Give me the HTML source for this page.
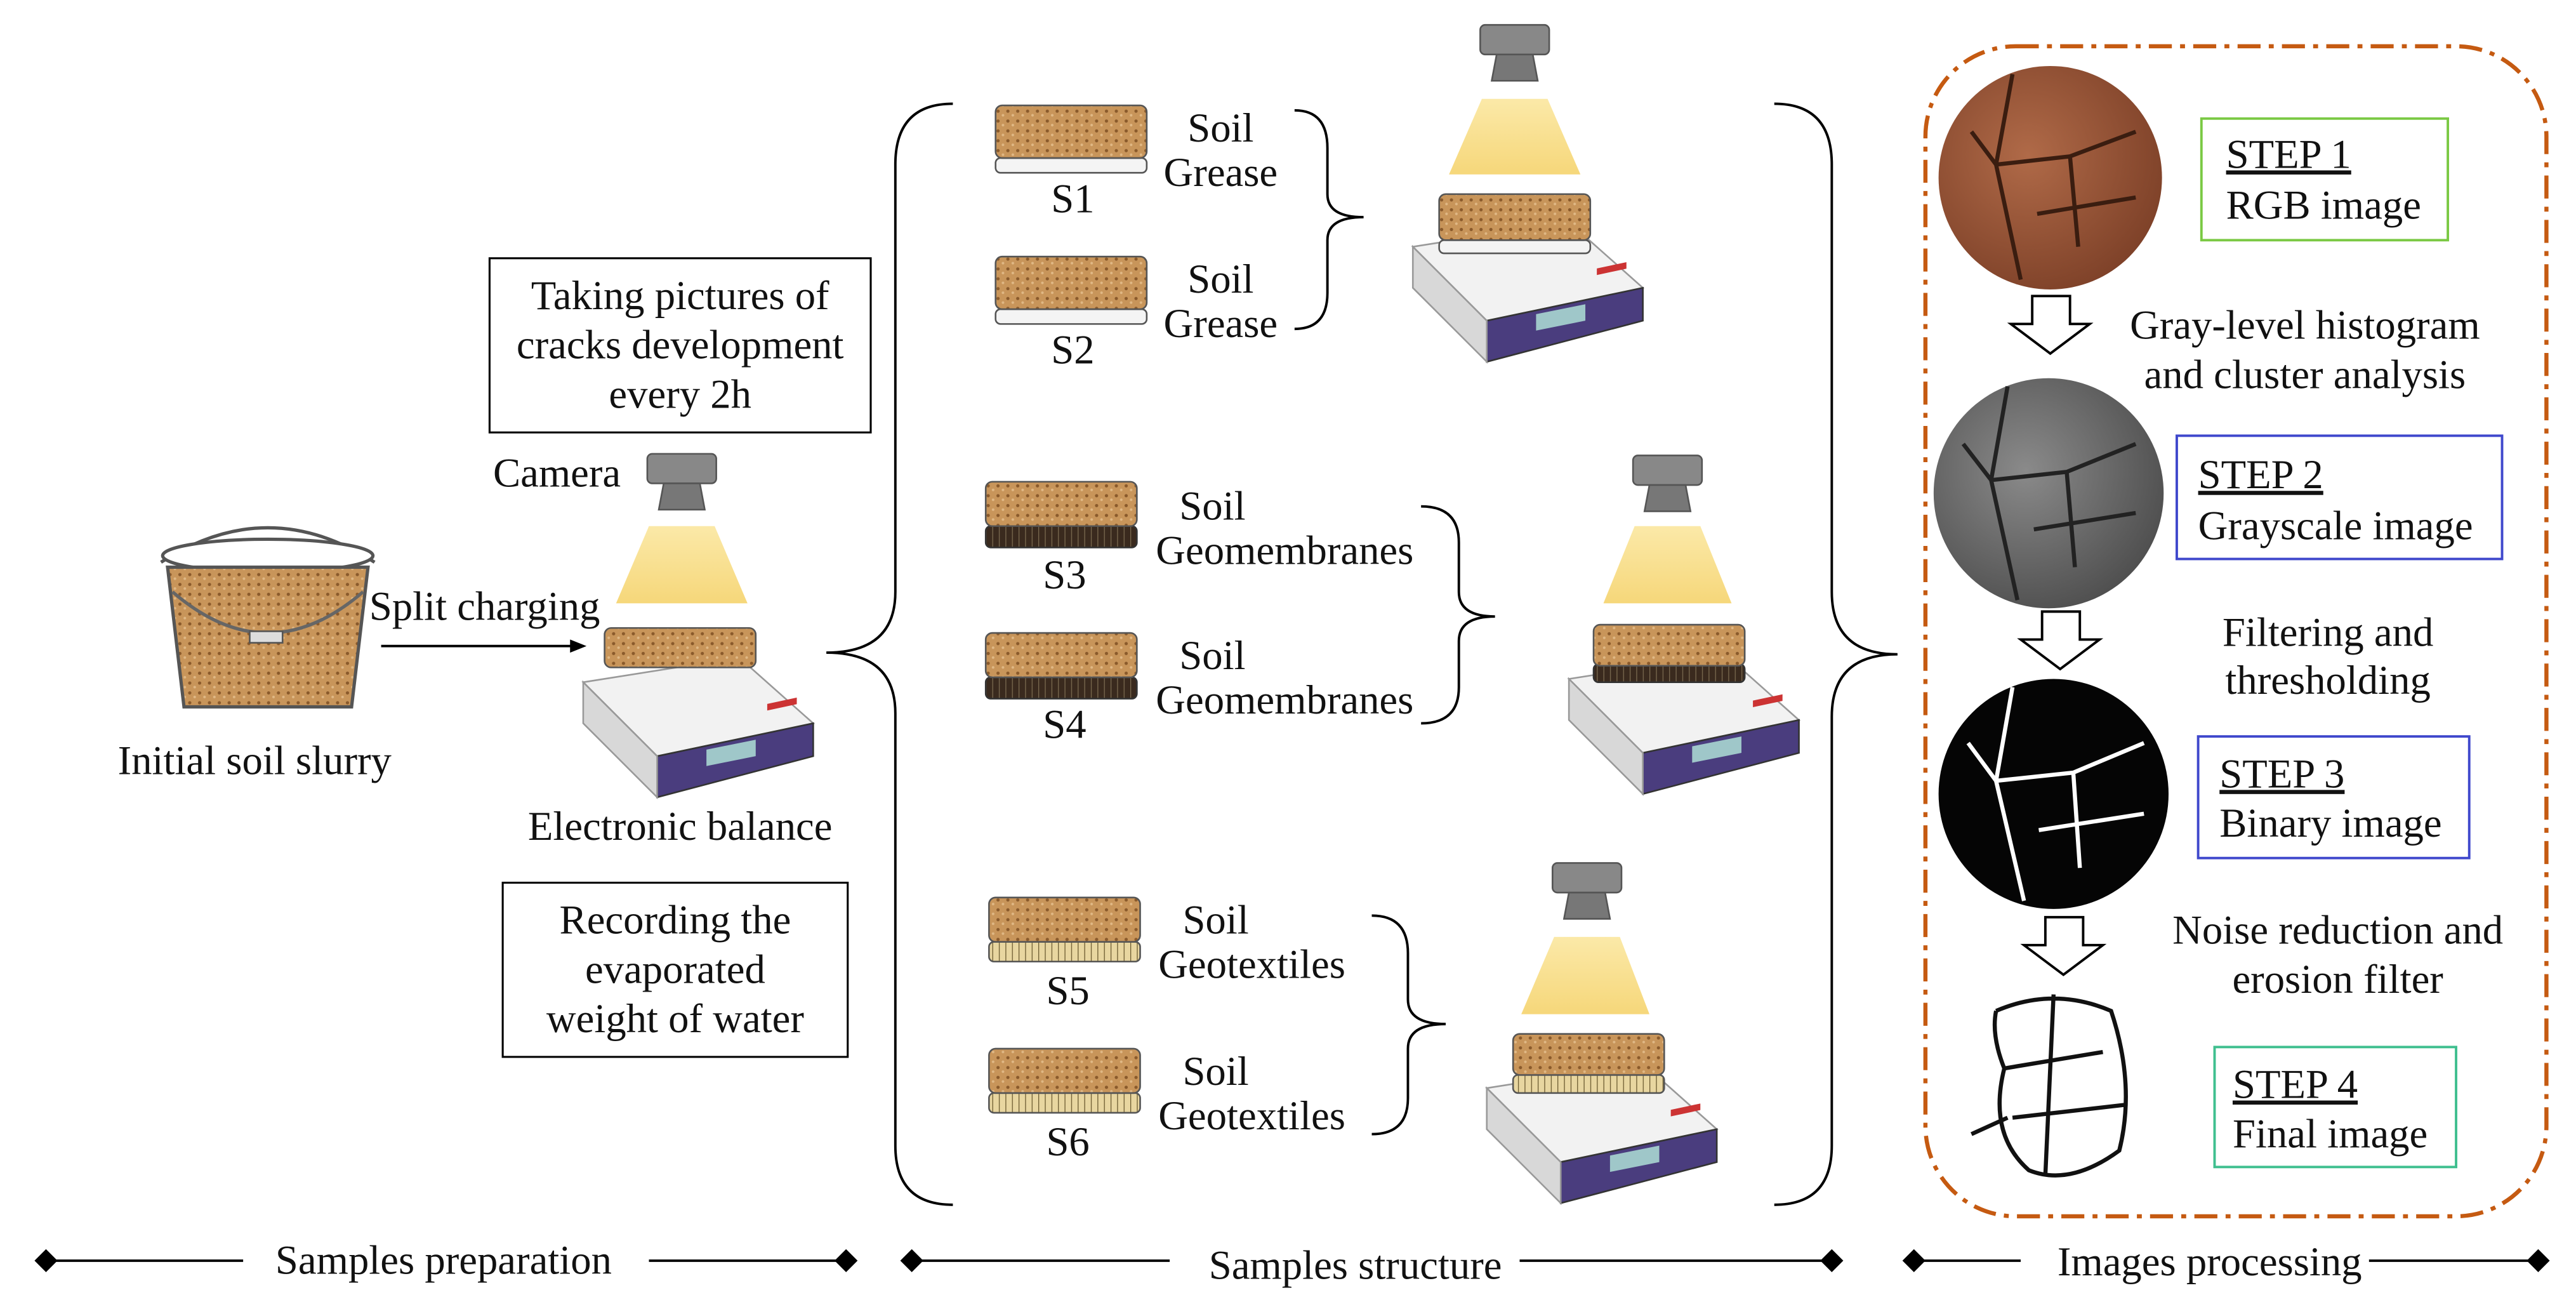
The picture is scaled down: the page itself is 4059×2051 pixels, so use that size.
<!DOCTYPE html>
<html><head><meta charset="utf-8"><style>
html,body{margin:0;padding:0;background:#fff;}
svg{display:block;}
text{font-family:"Liberation Serif",serif;font-size:25px;fill:#111;}
</style></head><body>
<svg width="4059" height="2051" viewBox="0 0 1568 792" xmlns="http://www.w3.org/2000/svg">
<defs>
<pattern id="soil" width="6" height="6" patternUnits="userSpaceOnUse">
<rect width="6" height="6" fill="#c8955a"/><circle cx="1.5" cy="1.5" r="1" fill="#8a5a2b"/><circle cx="4.5" cy="4" r="0.8" fill="#e0b885"/>
</pattern>
<pattern id="geot" width="4" height="4" patternUnits="userSpaceOnUse">
<rect width="4" height="4" fill="#e8d6a0"/><line x1="0" y1="0" x2="0" y2="4" stroke="#6b5a30" stroke-width="1"/>
</pattern>
<pattern id="geom" width="4" height="4" patternUnits="userSpaceOnUse">
<rect width="4" height="4" fill="#3a2a1e"/><line x1="0" y1="0" x2="0" y2="4" stroke="#7a6a50" stroke-width="1"/>
</pattern>
<linearGradient id="light" x1="0" y1="0" x2="0" y2="1"><stop offset="0" stop-color="#fbe9a8"/><stop offset="1" stop-color="#f6d77a"/></linearGradient>
<radialGradient id="rgb" cx="0.4" cy="0.4" r="0.7"><stop offset="0" stop-color="#b06a48"/><stop offset="1" stop-color="#7a3e26"/></radialGradient>
<radialGradient id="gray" cx="0.4" cy="0.4" r="0.7"><stop offset="0" stop-color="#8a8a8a"/><stop offset="1" stop-color="#4a4a4a"/></radialGradient>
<g id="balance">
<polygon points="0,35 95,20 140,60 45,80" fill="#f2f2f2" stroke="#999" stroke-width="1"/>
<polygon points="45,80 140,60 140,80 45,105" fill="#4a3d7e" stroke="#333" stroke-width="1"/>
<polygon points="0,35 45,80 45,105 0,60" fill="#d8d8d8" stroke="#999" stroke-width="1"/>
<polygon points="75,76 105,70 105,80 75,86" fill="#9fc7c9"/>
<rect x="112" y="72" width="18" height="4" fill="#c33" transform="skewY(-12)"/>
</g>
<g id="cam">
<rect x="0" y="0" width="42" height="18" rx="3" fill="#888" stroke="#555"/>
<polygon points="10,18 32,18 35,34 7,34" fill="#777" stroke="#555"/>
</g>
</defs>

<path d="M98,342 Q163,300 228,342" fill="none" stroke="#555" stroke-width="2"/>
<ellipse cx="163" cy="338" rx="64" ry="10" fill="#fff" stroke="#555" stroke-width="2"/>
<path d="M102,345 L112,430 L214,430 L224,345 Z" fill="url(#soil)" stroke="#555" stroke-width="2"/>
<path d="M105,360 Q163,410 221,360" fill="none" stroke="#666" stroke-width="2"/>
<rect x="152" y="384" width="20" height="7" fill="#ddd" stroke="#555"/>
<text x="155" y="471" text-anchor="middle">Initial soil slurry</text>
<line x1="232" y1="393" x2="350" y2="393" stroke="#000" stroke-width="1.5"/>
<polygon points="357,393 347,389 347,397" fill="#000"/>
<text x="295" y="377" text-anchor="middle">Split charging</text>

<rect x="298" y="157" width="232" height="106" fill="#fff" stroke="#000" stroke-width="1.2"/>
<text x="414" y="188" text-anchor="middle">Taking pictures of</text>
<text x="414" y="218" text-anchor="middle">cracks development</text>
<text x="414" y="248" text-anchor="middle">every 2h</text>
<text x="339" y="296" text-anchor="middle">Camera</text>
<use href="#cam" x="394" y="276"/>
<polygon points="395,320 435,320 455,367 375,367" fill="url(#light)"/>
<use href="#balance" x="355" y="380"/>
<rect x="368" y="382" width="92" height="24" rx="4" fill="url(#soil)" stroke="#555"/>
<text x="414" y="511" text-anchor="middle">Electronic balance</text>
<rect x="306" y="537" width="210" height="106" fill="#fff" stroke="#000" stroke-width="1.2"/>
<text x="411" y="568" text-anchor="middle">Recording the</text>
<text x="411" y="598" text-anchor="middle">evaporated</text>
<text x="411" y="628" text-anchor="middle">weight of water</text>

<path d="M580,63 Q545,63 545,100 L545,360 Q545,397 503,397 Q545,397 545,434 L545,697 Q545,733 580,733" fill="none" stroke="#000" stroke-width="1.5"/>

<g>
<rect x="606" y="96" width="92" height="9" rx="3" fill="#f4f4f4" stroke="#555"/>
<rect x="606" y="64" width="92" height="32" rx="4" fill="url(#soil)" stroke="#555"/>
<text x="653" y="129" text-anchor="middle">S1</text>
<rect x="606" y="188" width="92" height="9" rx="3" fill="#f4f4f4" stroke="#555"/>
<rect x="606" y="156" width="92" height="32" rx="4" fill="url(#soil)" stroke="#555"/>
<text x="653" y="221" text-anchor="middle">S2</text>
<text x="743" y="86" text-anchor="middle">Soil</text><text x="743" y="113" text-anchor="middle">Grease</text>
<text x="743" y="178" text-anchor="middle">Soil</text><text x="743" y="205" text-anchor="middle">Grease</text>
<path d="M788,67 Q808,67 808,90 L808,118 Q808,132 830,132 Q808,132 808,146 L808,178 Q808,200 788,200" fill="none" stroke="#000" stroke-width="1.5"/>
<use href="#cam" x="901" y="15"/>
<polygon points="902,60 942,60 962,106 882,106" fill="url(#light)"/>
<use href="#balance" x="860" y="115"/>
<rect x="876" y="146" width="92" height="8" rx="3" fill="#f4f4f4" stroke="#555"/>
<rect x="876" y="118" width="92" height="28" rx="4" fill="url(#soil)" stroke="#555"/>
</g>

<g>
<rect x="600" y="320" width="92" height="13" rx="3" fill="url(#geom)" stroke="#333"/>
<rect x="600" y="293" width="92" height="27" rx="4" fill="url(#soil)" stroke="#555"/>
<text x="648" y="358" text-anchor="middle">S3</text>
<rect x="600" y="412" width="92" height="13" rx="3" fill="url(#geom)" stroke="#333"/>
<rect x="600" y="385" width="92" height="27" rx="4" fill="url(#soil)" stroke="#555"/>
<text x="648" y="449" text-anchor="middle">S4</text>
<text x="738" y="316" text-anchor="middle">Soil</text><text x="782" y="343" text-anchor="middle">Geomembranes</text>
<text x="738" y="407" text-anchor="middle">Soil</text><text x="782" y="434" text-anchor="middle">Geomembranes</text>
<path d="M865,308 Q888,308 888,330 L888,360 Q888,375 910,375 Q888,375 888,390 L888,418 Q888,440 865,440" fill="none" stroke="#000" stroke-width="1.5"/>
<use href="#cam" x="994" y="277"/>
<polygon points="995,320 1035,320 1054,367 976,367" fill="url(#light)"/>
<use href="#balance" x="955" y="378"/>
<rect x="970" y="404" width="92" height="11" rx="3" fill="url(#geom)" stroke="#333"/>
<rect x="970" y="380" width="92" height="25" rx="4" fill="url(#soil)" stroke="#555"/>
</g>

<g>
<rect x="602" y="573" width="92" height="12" rx="3" fill="url(#geot)" stroke="#555"/>
<rect x="602" y="546" width="92" height="27" rx="4" fill="url(#soil)" stroke="#555"/>
<text x="650" y="611" text-anchor="middle">S5</text>
<rect x="602" y="665" width="92" height="12" rx="3" fill="url(#geot)" stroke="#555"/>
<rect x="602" y="638" width="92" height="27" rx="4" fill="url(#soil)" stroke="#555"/>
<text x="650" y="703" text-anchor="middle">S6</text>
<text x="740" y="568" text-anchor="middle">Soil</text><text x="762" y="595" text-anchor="middle">Geotextiles</text>
<text x="740" y="660" text-anchor="middle">Soil</text><text x="762" y="687" text-anchor="middle">Geotextiles</text>
<path d="M835,557 Q857,557 857,580 L857,608 Q857,623 880,623 Q857,623 857,638 L857,668 Q857,690 835,690" fill="none" stroke="#000" stroke-width="1.5"/>
<use href="#cam" x="945" y="525"/>
<polygon points="946,570 986,570 1004,617 926,617" fill="url(#light)"/>
<use href="#balance" x="905" y="627"/>
<rect x="921" y="654" width="92" height="11" rx="3" fill="url(#geot)" stroke="#555"/>
<rect x="921" y="629" width="92" height="25" rx="4" fill="url(#soil)" stroke="#555"/>
</g>

<path d="M1080,63 Q1115,63 1115,100 L1115,360 Q1115,398 1155,398 Q1115,398 1115,436 L1115,697 Q1115,733 1080,733" fill="none" stroke="#000" stroke-width="1.5"/>

<rect x="1172" y="28" width="378" height="712" rx="55" fill="none" stroke="#c55a11" stroke-width="2.5" stroke-dasharray="14,5,3,5"/>

<circle cx="1248" cy="108" r="68" fill="url(#rgb)"/>
<path d="M1225,45 L1215,100 L1230,170 M1215,100 L1260,95 L1300,80 M1260,95 L1265,150 M1240,130 L1300,120 M1200,80 L1215,100" fill="none" stroke="#3a1d10" stroke-width="2.5"/>
<rect x="1340" y="72" width="150" height="74" fill="#fff" stroke="#7ac943" stroke-width="1.5"/>
<text x="1355" y="102" text-decoration="underline">STEP 1</text>
<text x="1355" y="133">RGB image</text>
<polygon points="1237,180 1260,180 1260,197 1272,197 1248,215 1224,197 1237,197" fill="#fff" stroke="#000" stroke-width="1.5"/>
<text x="1403" y="206" text-anchor="middle">Gray-level histogram</text>
<text x="1403" y="236" text-anchor="middle">and cluster analysis</text>

<circle cx="1247" cy="300" r="70" fill="url(#gray)"/>
<path d="M1222,235 L1212,292 L1228,365 M1212,292 L1258,287 L1300,270 M1258,287 L1263,345 M1238,322 L1300,312 M1195,270 L1212,292" fill="none" stroke="#222" stroke-width="2.5"/>
<rect x="1325" y="265" width="198" height="75" fill="#fff" stroke="#3f48cc" stroke-width="1.5"/>
<text x="1338" y="297" text-decoration="underline">STEP 2</text>
<text x="1338" y="328">Grayscale image</text>
<polygon points="1243,372 1266,372 1266,389 1278,389 1254,407 1230,389 1243,389" fill="#fff" stroke="#000" stroke-width="1.5"/>
<text x="1417" y="393" text-anchor="middle">Filtering and</text>
<text x="1417" y="422" text-anchor="middle">thresholding</text>

<circle cx="1250" cy="483" r="70" fill="#050505"/>
<path d="M1225,418 L1215,475 L1232,548 M1215,475 L1262,470 L1305,452 M1262,470 L1266,528 M1241,505 L1305,495 M1198,452 L1215,475" fill="none" stroke="#fff" stroke-width="2.5"/>
<rect x="1338" y="448" width="165" height="74" fill="#fff" stroke="#3f48cc" stroke-width="1.5"/>
<text x="1351" y="479" text-decoration="underline">STEP 3</text>
<text x="1351" y="509">Binary image</text>
<polygon points="1245,558 1268,558 1268,575 1280,575 1256,593 1232,575 1245,575" fill="#fff" stroke="#000" stroke-width="1.5"/>
<text x="1423" y="574" text-anchor="middle">Noise reduction and</text>
<text x="1423" y="604" text-anchor="middle">erosion filter</text>

<path d="M1215,615 Q1250,600 1285,615 Q1300,660 1290,700 Q1260,722 1235,712 Q1210,690 1220,650 Q1212,630 1215,615 M1220,650 L1280,640 M1225,680 L1295,672 M1250,605 L1245,715 M1200,690 L1222,680" fill="none" stroke="#111" stroke-width="2.5"/>
<rect x="1348" y="637" width="147" height="73" fill="#fff" stroke="#3fbf8f" stroke-width="1.5"/>
<text x="1359" y="668" text-decoration="underline">STEP 4</text>
<text x="1359" y="698">Final image</text>

<g stroke="#000" stroke-width="1.5">
<line x1="28" y1="767" x2="148" y2="767"/><line x1="395" y1="767" x2="515" y2="767"/>
<line x1="555" y1="767" x2="712" y2="767"/><line x1="925" y1="767" x2="1115" y2="767"/>
<line x1="1165" y1="767" x2="1230" y2="767"/><line x1="1442" y1="767" x2="1545" y2="767"/>
</g>
<g fill="#000">
<polygon points="28,760 35,767 28,774 21,767"/><polygon points="515,760 522,767 515,774 508,767"/>
<polygon points="555,760 562,767 555,774 548,767"/><polygon points="1115,760 1122,767 1115,774 1108,767"/>
<polygon points="1165,760 1172,767 1165,774 1158,767"/><polygon points="1545,760 1552,767 1545,774 1538,767"/>
</g>
<text x="270" y="775" text-anchor="middle">Samples preparation</text>
<text x="825" y="778" text-anchor="middle">Samples structure</text>
<text x="1345" y="776" text-anchor="middle">Images processing</text>
</svg>
</body></html>
